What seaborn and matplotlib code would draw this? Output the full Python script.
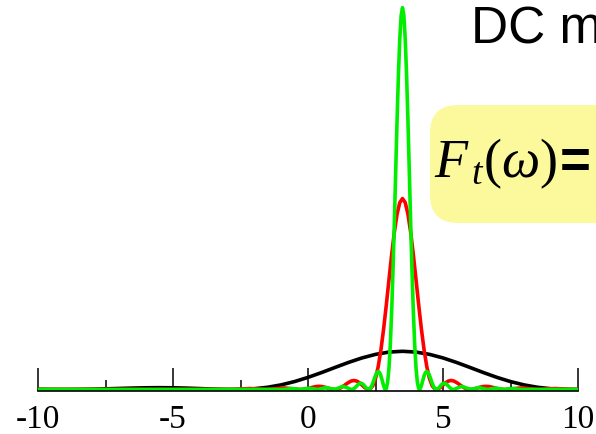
import numpy as np
import pandas as pd
import matplotlib
matplotlib.use("Agg")
import matplotlib.pyplot as plt
from matplotlib.patches import FancyBboxPatch
import seaborn as sns

# ---------------- data ----------------
peak_center = 3.5
x_ticks_major = [-10, -5, 0, 5, 10]
x_ticks_minor = [-7.5, -2.5, 2.5, 7.5]
x_tick_labels = ["-10", "-5", "0", "5", "10"]

# black curve: offsets from the peak centre and heights (peak = 1)
black_offsets = [0.0, 0.5, 1.0, 1.5, 2.0, 2.5, 3.0, 3.5, 4.0, 4.5, 5.0, 5.5, 6.0, 6.5,
                 7.0, 7.5, 8.0, 8.5, 9.0, 9.5, 10.0, 10.5, 11.0, 11.5, 12.0, 12.5, 13.0, 13.5]
black_heights = [1.0, 0.9793, 0.9194, 0.8261, 0.7081, 0.5764, 0.4422, 0.3162, 0.2067, 0.1196,
                 0.0573, 0.0193, 0.0022, 0.0011, 0.0100, 0.0232, 0.0358, 0.0443, 0.0472, 0.0443,
                 0.0368, 0.0268, 0.0165, 0.0078, 0.0022, 0.0000, 0.0011, 0.0044]

# red curve
red_offsets = [0.0, 0.1, 0.2, 0.3, 0.4, 0.5, 0.6, 0.7, 0.8, 0.9, 1.0, 1.1, 1.2, 1.3, 1.4,
               1.5, 1.6, 1.7, 1.8, 1.9, 2.0, 2.1, 2.2, 2.3, 2.4, 2.5, 2.6, 2.7, 2.8, 2.9,
               3.0, 3.1, 3.2, 3.3, 3.4, 3.5, 3.6, 3.7, 3.8, 3.9, 4.0,
               4.398, 5.027, 5.655, 6.283, 14.0]
red_heights = [5.000, 4.896, 4.597, 4.130, 3.540, 2.882, 2.211, 1.581, 1.033, 0.598, 0.286,
               0.096, 0.011, 0.005, 0.050, 0.116, 0.179, 0.221, 0.236, 0.221, 0.184, 0.134,
               0.083, 0.039, 0.011, 0.000, 0.006, 0.022, 0.044, 0.064, 0.078, 0.082, 0.077,
               0.062, 0.044, 0.026, 0.010, 0.002, 0.000, 0.005, 0.015,
               0.041, 0.000, 0.025, 0.000, 0.000]

# green curve
green_offsets = [0.00, 0.05, 0.10, 0.15, 0.20, 0.25, 0.30, 0.35, 0.40, 0.45, 0.50, 0.55,
                 0.60, 0.65, 0.70, 0.75, 0.80, 0.85, 0.90, 0.95, 1.00, 1.05, 1.10, 1.15,
                 1.20, 1.25, 1.30, 1.35, 1.40, 1.45, 1.50, 1.55, 1.60, 1.65, 1.70, 1.75,
                 1.80, 1.85, 1.90, 1.95, 2.00,
                 2.199, 2.513, 2.827, 3.142, 3.456, 3.770, 4.084, 4.398, 14.0]
green_heights = [10.000, 9.793, 9.194, 8.261, 7.081, 5.764, 4.422, 3.162, 2.067, 1.196,
                 0.573, 0.193, 0.022, 0.011, 0.100, 0.232, 0.358, 0.443, 0.472, 0.443,
                 0.368, 0.268, 0.165, 0.078, 0.022, 0.000, 0.011, 0.044, 0.088, 0.129,
                 0.156, 0.165, 0.153, 0.125, 0.088, 0.051, 0.021, 0.004, 0.001, 0.011, 0.030,
                 0.083, 0.000, 0.050, 0.000, 0.034, 0.000, 0.024, 0.000, 0.000]

curve_names = ["black", "red", "green"]
curve_colors = ["#000000", "#ff0000", "#00ee00"]


def mirrored(offsets, heights):
    xs = [peak_center - d for d in offsets[::-1]] + [peak_center + d for d in offsets[1:]]
    ys = list(heights[::-1]) + list(heights[1:])
    return pd.DataFrame({"x": xs, "y": ys})


frames = {
    "black": mirrored(black_offsets, black_heights),
    "red": mirrored(red_offsets, red_heights),
    "green": mirrored(green_offsets, green_heights),
}

# ---------------- figure ----------------
sns.set_theme(style="white")
plt.rcParams["axes.unicode_minus"] = False
plt.rcParams["mathtext.fontset"] = "custom"
plt.rcParams["mathtext.rm"] = "Liberation Serif"
plt.rcParams["mathtext.it"] = "Liberation Serif:italic"
plt.rcParams["mathtext.bf"] = "Liberation Serif:bold"

W, H = 596, 434
fig = plt.figure(figsize=(W / 100, H / 100), dpi=100)
fig.patch.set_facecolor("white")
ax = fig.add_axes([38 / W, 43 / H, 540 / W, 391 / H])
ax.set_facecolor("none")

for name, color in zip(curve_names, curve_colors):
    sns.lineplot(data=frames[name], x="x", y="y", ax=ax, color=color,
                 linewidth=2.6, estimator=None, sort=False, legend=False)

ax.set_xlim(-10, 10)
ax.set_ylim(-0.04, 10.2)
for s in ["left", "right", "top"]:
    ax.spines[s].set_visible(False)
ax.spines["bottom"].set_color("black")
ax.spines["bottom"].set_linewidth(1.2)
ax.spines["bottom"].set_zorder(5)

ax.set_xticks(x_ticks_major)
ax.set_xticklabels(x_tick_labels, fontfamily="Liberation Serif", fontsize=24, color="black")
ax.set_xticks(x_ticks_minor, minor=True)
ax.tick_params(axis="x", which="major", direction="in", length=16.5, width=1.1,
               color="black", pad=10, bottom=True)
ax.tick_params(axis="x", which="minor", direction="in", length=8, width=1.1,
               color="black", bottom=True)
ax.set_yticks([])
ax.set_xlabel("")
ax.set_ylabel("")


def ftext(px, py, s, ha="left", **kw):
    """Place text at a pixel position (origin top-left)."""
    return fig.text(px / W, 1 - py / H, s, ha=ha, va="baseline", color="black", **kw)


# title fragment (cut by the figure edge, as in the reference)
ftext(471, 43, "DC m", fontsize=37, fontfamily="Liberation Sans")

# yellow formula box (cut by the figure edge)
box = FancyBboxPatch((430, H - 223), 220, 118,
                     boxstyle="round,pad=0,rounding_size=28",
                     transform=None, facecolor="#fbf99c", edgecolor="none", zorder=1)
fig.patches.append(box)
ftext(434, 177, r"$F_{\,t}(\omega)$", fontsize=39)
ftext(591, 177, "=", ha="right", fontsize=38, fontweight="bold",
      fontfamily="Liberation Sans")

fig.savefig("out.png", dpi=100)
